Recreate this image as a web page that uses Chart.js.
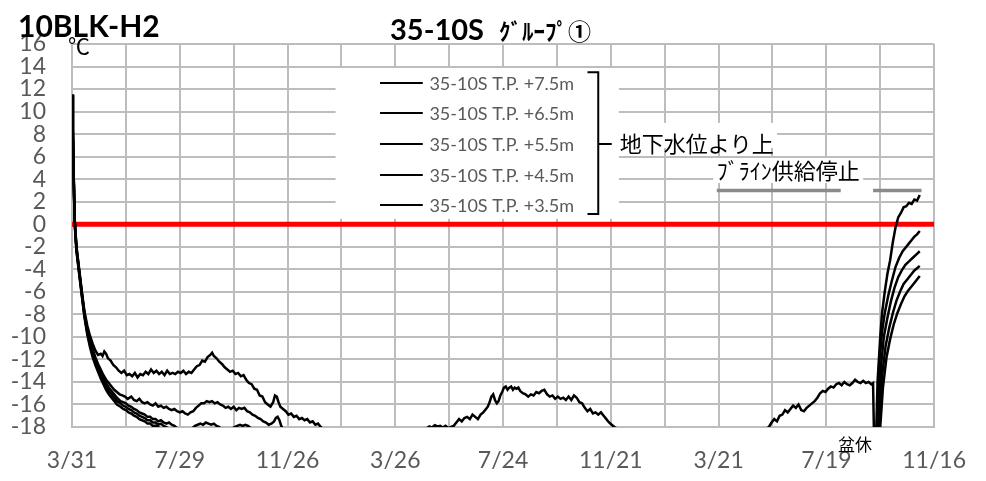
<!DOCTYPE html>
<html>
<head>
<meta charset="utf-8">
<script src="https://cdn.jsdelivr.net/npm/chart.js@4.4.1/dist/chart.umd.min.js"></script>
<style>
  html, body { margin: 0; padding: 0; background: #fff; }
  #wrap { width: 986px; height: 481px; }
</style>
</head>
<body>
<div id="wrap"><canvas id="myChart" width="986" height="481"></canvas></div>
<script>
// x = days since 3/31 of the first year, y = temperature (°C)
const tickLabels = ['3/31', '7/29', '11/26', '3/26', '7/24', '11/21', '3/21', '7/19', '11/16'];
const seriesNames = ['35-10S T.P. +7.5m', '35-10S T.P. +6.5m', '35-10S T.P. +5.5m', '35-10S T.P. +4.5m', '35-10S T.P. +3.5m'];

const tp75 = [[0,11.5],[1,8.5],[2,4.0],[3,0.5],[5,-2.0],[8,-4.0],[11,-6.0],[14,-7.8],[17,-9.0],[20,-9.9],[23,-10.6],[26,-11.2],[29,-11.6],[32,-11.5],[34,-11.7],[36,-11.3],[38,-11.5],[40,-11.9],[43,-12.1],[46,-12.5],[49,-12.7],[52,-13.0],[55,-13.2],[58,-13.0],[61,-13.4],[64,-13.3],[67,-13.5],[70,-13.2],[73,-13.6],[76,-13.3],[79,-13.4],[82,-13.1],[85,-13.3],[88,-12.9],[91,-13.2],[94,-13.0],[97,-13.3],[100,-13.1],[103,-13.4],[106,-13.0],[109,-13.3],[112,-13.2],[115,-13.3],[118,-13.1],[121,-13.2],[124,-13.0],[127,-13.3],[130,-13.1],[133,-13.2],[136,-12.9],[139,-12.6],[142,-12.5],[145,-12.1],[148,-12.2],[151,-11.8],[154,-11.6],[156,-11.4],[158,-11.7],[161,-11.9],[164,-12.2],[167,-12.4],[170,-12.7],[173,-12.9],[176,-13.1],[179,-13.0],[182,-13.3],[185,-13.2],[188,-13.5],[191,-13.4],[194,-13.8],[197,-14.1],[200,-14.2],[203,-14.6],[206,-14.7],[209,-15.2],[212,-15.3],[215,-15.8],[218,-16.0],[221,-16.2],[224,-15.8],[226,-15.2],[228,-15.3],[230,-15.8],[232,-16.2],[235,-16.4],[238,-16.6],[241,-16.9],[244,-16.8],[247,-17.1],[250,-17.0],[253,-17.3],[256,-17.2],[259,-17.4],[262,-17.3],[265,-17.6],[268,-17.5],[271,-17.8],[274,-17.7],[277,-18.0],[281,-18.3],[290,-18.8],[320,-19.5],[360,-19.6],[385,-18.7],[395,-18.1],[398,-17.95],[401,-18.05],[404,-17.85],[407,-17.95],[410,-17.9],[413,-18.05],[416,-17.9],[419,-18.1],[422,-18.0],[425,-17.9],[428,-17.6],[431,-17.3],[434,-17.5],[437,-17.2],[440,-17.1],[443,-17.3],[446,-16.9],[449,-17.1],[452,-17.3],[455,-16.9],[458,-16.7],[461,-16.4],[463,-16.2],[465,-15.8],[467,-15.3],[469,-15.1],[471,-15.6],[473,-15.9],[475,-15.7],[477,-15.2],[479,-14.9],[481,-14.5],[483,-14.4],[485,-14.7],[487,-14.5],[489,-14.4],[491,-14.7],[493,-14.5],[495,-14.6],[497,-14.5],[499,-14.8],[502,-15.0],[505,-15.1],[508,-15.3],[511,-15.1],[514,-15.2],[517,-14.9],[520,-15.0],[523,-14.8],[526,-14.7],[529,-15.1],[532,-15.3],[535,-15.2],[538,-15.5],[541,-15.3],[544,-15.5],[547,-15.4],[550,-15.6],[553,-15.3],[556,-15.6],[559,-15.2],[562,-15.4],[565,-15.8],[568,-15.9],[571,-16.3],[574,-16.6],[577,-16.4],[580,-16.8],[583,-16.7],[586,-16.9],[589,-16.7],[592,-17.0],[595,-17.3],[598,-17.6],[601,-17.8],[604,-18.0],[608,-18.2],[620,-18.7],[660,-19.4],[700,-19.7],[740,-19.4],[765,-18.6],[772,-18.2],[776,-18.0],[779,-17.6],[782,-17.3],[785,-17.5],[788,-17.0],[791,-16.9],[794,-16.5],[797,-16.7],[800,-16.4],[803,-16.1],[806,-16.3],[809,-16.0],[812,-16.5],[815,-16.6],[818,-16.3],[821,-16.1],[824,-15.9],[827,-15.7],[830,-15.4],[833,-15.0],[836,-14.8],[839,-14.9],[842,-14.6],[845,-14.4],[848,-14.5],[851,-14.2],[854,-14.1],[857,-14.3],[860,-14.0],[863,-14.2],[866,-14.3],[869,-14.1],[872,-13.8],[875,-14.0],[878,-14.1],[881,-13.9],[884,-14.1],[887,-14.0],[890,-14.2],[892,-14.1],[894,-23.0],[897,-14.0],[900,-10.0],[902,-7.9],[905,-6.0],[908,-4.4],[911,-3.2],[914,-1.6],[917,-0.3],[920,0.6],[923,1.0],[926,1.5],[929,1.6],[932,1.9],[935,1.8],[938,2.2],[941,2.1],[944,2.6]];

const tp65 = [[0,11.5],[1,8.4],[2,3.9],[3,0.3],[5,-2.1],[8,-4.1],[11,-6.1],[14,-8.0],[17,-9.3],[20,-10.3],[23,-11.1],[26,-11.8],[29,-12.4],[32,-12.9],[35,-13.4],[38,-13.8],[41,-14.1],[44,-14.4],[47,-14.7],[50,-14.9],[53,-15.1],[56,-15.2],[59,-15.3],[62,-15.5],[66,-15.3],[69,-15.6],[72,-15.7],[75,-15.5],[78,-15.8],[81,-15.9],[84,-15.8],[87,-16.0],[90,-16.1],[93,-15.9],[96,-16.2],[99,-16.1],[102,-16.3],[105,-16.2],[108,-16.4],[111,-16.5],[114,-16.4],[117,-16.6],[120,-16.7],[123,-16.6],[126,-16.8],[129,-16.9],[132,-16.7],[135,-16.6],[138,-16.3],[141,-16.1],[144,-15.9],[147,-15.9],[150,-15.7],[153,-15.8],[156,-15.7],[159,-15.9],[162,-15.8],[165,-16.0],[168,-16.1],[171,-16.3],[174,-16.2],[177,-16.4],[180,-16.2],[183,-16.5],[186,-16.3],[189,-16.4],[192,-16.3],[195,-16.6],[198,-16.7],[201,-16.9],[204,-17.0],[207,-17.2],[210,-17.3],[213,-17.5],[216,-17.6],[219,-17.8],[222,-17.7],[225,-17.5],[227,-17.2],[229,-17.1],[231,-17.4],[233,-17.9],[236,-18.3],[245,-18.8],[280,-19.6],[350,-20.4],[450,-20.6],[550,-20.4],[650,-21.0],[750,-20.8],[850,-20.2],[892,-20.5],[895,-25.0],[897,-16.0],[899,-12.3],[902,-9.6],[905,-7.9],[909,-6.3],[913,-5.0],[917,-3.8],[921,-3.0],[925,-2.4],[929,-2.0],[932,-1.7],[935,-1.4],[938,-1.1],[941,-0.9],[944,-0.6]];

const tp55 = [[0,11.5],[1,8.3],[2,3.8],[3,0.2],[5,-2.2],[8,-4.2],[11,-6.2],[14,-8.1],[17,-9.5],[20,-10.5],[23,-11.4],[26,-12.1],[29,-12.7],[32,-13.2],[35,-13.7],[38,-14.1],[41,-14.5],[44,-14.8],[47,-15.1],[50,-15.4],[54,-15.7],[57,-15.8],[60,-15.9],[63,-16.1],[66,-16.2],[69,-16.4],[72,-16.5],[75,-16.7],[78,-16.8],[81,-16.9],[84,-17.1],[87,-17.1],[90,-17.3],[93,-17.3],[96,-17.5],[99,-17.4],[102,-17.6],[105,-17.7],[108,-17.6],[111,-17.8],[114,-17.9],[117,-18.1],[121,-18.3],[128,-18.4],[134,-18.1],[137,-17.9],[140,-17.8],[143,-17.7],[146,-17.8],[149,-17.6],[152,-17.7],[155,-17.8],[158,-17.7],[161,-17.9],[164,-18.0],[168,-18.3],[175,-18.3],[181,-18.0],[184,-17.9],[187,-17.8],[190,-17.9],[193,-17.8],[196,-17.9],[199,-18.1],[205,-18.4],[220,-18.8],[260,-19.6],[320,-20.8],[450,-21.2],[600,-21.4],[750,-21.0],[850,-20.8],[892,-21.0],[895,-26.0],[898,-17.0],[901,-12.5],[904,-10.0],[908,-8.3],[912,-6.8],[916,-5.6],[920,-4.7],[924,-4.1],[928,-3.6],[932,-3.3],[936,-3.0],[940,-2.7],[944,-2.4]];

const tp45 = [[0,11.5],[1,8.2],[2,3.7],[3,0.1],[5,-2.3],[8,-4.3],[11,-6.3],[14,-8.2],[17,-9.6],[20,-10.7],[23,-11.6],[26,-12.3],[29,-12.9],[32,-13.5],[35,-14.0],[38,-14.4],[41,-14.8],[44,-15.1],[47,-15.4],[50,-15.7],[54,-15.9],[57,-16.1],[60,-16.2],[63,-16.4],[66,-16.5],[69,-16.7],[72,-16.8],[75,-17.0],[78,-17.1],[81,-17.2],[84,-17.4],[87,-17.4],[90,-17.6],[93,-17.6],[96,-17.8],[99,-17.7],[102,-17.9],[105,-18.0],[109,-18.2],[120,-18.6],[150,-18.9],[200,-19.2],[260,-20.0],[350,-21.3],[500,-21.8],[650,-22.0],[800,-21.5],[892,-21.6],[895,-27.0],[899,-17.5],[902,-13.5],[906,-10.8],[910,-9.2],[914,-7.9],[918,-6.8],[922,-6.0],[926,-5.3],[930,-4.9],[934,-4.5],[938,-4.1],[941,-3.9],[944,-3.7]];

const tp35 = [[0,11.5],[1,8.1],[2,3.6],[3,0.0],[5,-2.4],[8,-4.4],[11,-6.4],[14,-8.3],[17,-9.8],[20,-10.9],[23,-11.8],[26,-12.5],[29,-13.1],[32,-13.7],[35,-14.2],[38,-14.7],[41,-15.1],[44,-15.4],[47,-15.7],[50,-16.0],[54,-16.2],[57,-16.4],[60,-16.5],[63,-16.7],[66,-16.8],[69,-17.0],[72,-17.1],[75,-17.3],[78,-17.4],[81,-17.5],[84,-17.7],[87,-17.7],[90,-17.9],[93,-17.9],[96,-18.0],[100,-18.2],[110,-18.5],[140,-19.0],[200,-19.6],[260,-20.5],[350,-22.0],[500,-22.5],[650,-22.7],[800,-22.2],[892,-22.3],[895,-28.0],[900,-18.0],[903,-14.5],[907,-11.8],[911,-10.2],[915,-8.9],[919,-7.9],[923,-7.1],[927,-6.4],[931,-5.9],[935,-5.5],[939,-5.1],[944,-4.6]];

const zeroLine = [[0,0],[960,0]];
const brineStop1 = [[718,3],[856,3]];
const brineStop2 = [[892,3],[946,3]];

const toXY = arr => arr.map(p => ({x: p[0], y: p[1]}));
const blackLine = (label, arr) => ({
    label: label, data: toXY(arr), borderColor: '#000', borderWidth: 2.5,
    pointRadius: 0, tension: 0, clip: 0
});

// boxes in data units: [dayFrom, dayTo, valueTop, valueBottom]
const whiteBoxes = [[293.5, 609, 13.87, 0.47], [609, 785, 9.0, 6.77], [714, 881, 5.88, 3.66]];
const legendRows = [12.54, 9.87, 7.12, 4.37, 1.71];

const notesPlugin = {
    id: 'notes',
    beforeDatasetsDraw(chart) {
        const ctx = chart.ctx, x = chart.scales.x, y = chart.scales.y;
        ctx.save();
        ctx.fillStyle = '#fff';
        whiteBoxes.forEach(b => {
            const l = x.getPixelForValue(b[0]), r = x.getPixelForValue(b[1]);
            const t = y.getPixelForValue(b[2]), btm = y.getPixelForValue(b[3]);
            ctx.fillRect(l, t, r - l, btm - t);
        });
        ctx.restore();
    },
    afterDraw(chart) {
        const ctx = chart.ctx, x = chart.scales.x, y = chart.scales.y;
        ctx.save();
        // legend
        ctx.strokeStyle = '#000';
        ctx.lineWidth = 2;
        ctx.font = '18px Lato';
        ctx.fillStyle = '#595959';
        ctx.textBaseline = 'middle';
        ctx.textAlign = 'left';
        legendRows.forEach((v, i) => {
            const py = Math.round(y.getPixelForValue(v));
            ctx.beginPath();
            ctx.moveTo(x.getPixelForValue(343), py);
            ctx.lineTo(x.getPixelForValue(390.6), py);
            ctx.stroke();
            ctx.fillText(seriesNames[i], x.getPixelForValue(398), py + 1);
        });
        // bracket
        ctx.beginPath();
        ctx.moveTo(x.getPixelForValue(574), y.getPixelForValue(13.5));
        ctx.lineTo(x.getPixelForValue(586), y.getPixelForValue(13.5));
        ctx.lineTo(x.getPixelForValue(586), y.getPixelForValue(0.91));
        ctx.lineTo(x.getPixelForValue(574), y.getPixelForValue(0.91));
        ctx.moveTo(x.getPixelForValue(586), y.getPixelForValue(7.12));
        ctx.lineTo(x.getPixelForValue(601), y.getPixelForValue(7.12));
        ctx.stroke();
        // notes
        ctx.fillStyle = '#000';
        ctx.font = '22px "Noto Sans CJK JP"';
        ctx.fillText('地下水位より上', x.getPixelForValue(610), y.getPixelForValue(7.12));
        ctx.fillText('ﾌﾞﾗｲﾝ供給停止', x.getPixelForValue(718), y.getPixelForValue(4.8));
        ctx.font = '17px "Noto Sans CJK JP"';
        ctx.textAlign = 'center';
        ctx.fillText('盆休', x.getPixelForValue(872), y.getPixelForValue(-19.6));
        // titles
        ctx.textAlign = 'left';
        ctx.textBaseline = 'alphabetic';
        ctx.font = 'bold 30px Lato';
        ctx.fillText('10BLK-H2', 18, 37);
        ctx.font = 'bold 29px Lato';
        ctx.fillText('35-10S', 390, 40);
        ctx.font = 'bold 23px "Noto Sans CJK JP"';
        ctx.fillText('ｸﾞﾙｰﾌﾟ①', 499, 40);
        ctx.font = '22px "Noto Sans CJK JP"';
        ctx.fillText('℃', 68, 54);
        ctx.restore();
    }
};

const gridColor = '#bdbdbd';

new Chart(document.getElementById('myChart').getContext('2d'), {
    type: 'line',
    data: {
        datasets: [
            blackLine(seriesNames[0], tp75),
            blackLine(seriesNames[1], tp65),
            blackLine(seriesNames[2], tp55),
            blackLine(seriesNames[3], tp45),
            blackLine(seriesNames[4], tp35),
            { label: 'zero', data: toXY(zeroLine), borderColor: '#ff0000', borderWidth: 5, pointRadius: 0 },
            { label: 'brine1', data: toXY(brineStop1), borderColor: '#8a8a8a', borderWidth: 3.5, pointRadius: 0 },
            { label: 'brine2', data: toXY(brineStop2), borderColor: '#8a8a8a', borderWidth: 3.5, pointRadius: 0 }
        ]
    },
    options: {
        responsive: false,
        animation: false,
        devicePixelRatio: 1,
        layout: { padding: { top: 44, right: 44, left: 0, bottom: 0 } },
        plugins: { legend: { display: false }, tooltip: { enabled: false }, title: { display: false } },
        scales: {
            x: {
                type: 'linear', min: 0, max: 960,
                afterFit: s => { s.height = 54; },
                grid: { color: gridColor, lineWidth: 2, drawTicks: false },
                border: { color: gridColor, width: 2 },
                ticks: {
                    stepSize: 60, autoSkip: false, maxRotation: 0, padding: 20,
                    color: '#595959', font: { family: 'Lato', size: 23 },
                    callback: v => (v % 120 === 0 ? tickLabels[v / 120] : '')
                }
            },
            y: {
                min: -18, max: 16,
                afterFit: s => { s.width = 72; },
                grid: { color: gridColor, lineWidth: 2, drawTicks: false },
                border: { color: gridColor, width: 2 },
                ticks: {
                    stepSize: 2, autoSkip: false, padding: 26,
                    color: '#595959', font: { family: 'Lato', size: 23 }
                }
            }
        }
    },
    plugins: [notesPlugin]
});
</script>
</body>
</html>
